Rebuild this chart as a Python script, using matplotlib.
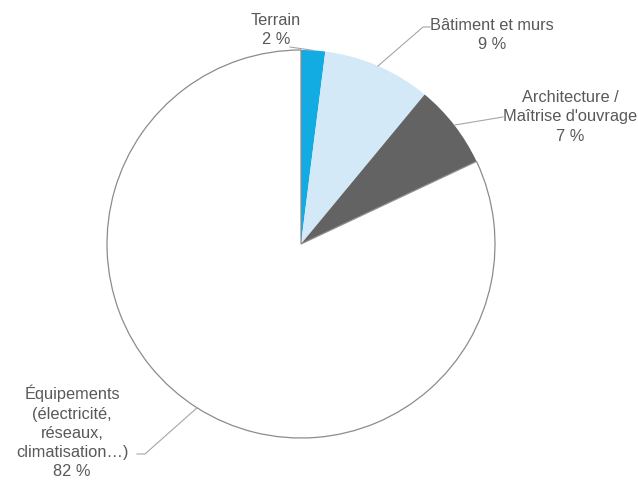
import numpy as np
import matplotlib
matplotlib.use('Agg')
import matplotlib.pyplot as plt

plt.rcParams['font.family'] = ['Liberation Sans', 'DejaVu Sans']

# data
labels = ["Terrain", "Bâtiment et murs", "Architecture /\nMaîtrise d'ouvrage",
          "Équipements\n(électricité,\nréseaux,\nclimatisation…)"]
shares = [2, 9, 7, 82]
colors = ["#12ACE3", "#D4E9F8", "#636363", "#FFFFFF"]
edges = ["none", "none", "none", "#8C8C8C"]

W, H = 638, 481
fig = plt.figure(figsize=(W / 100, H / 100), dpi=100)
ax = fig.add_axes([0, 0, 1, 1])

cx, cy, r = 301, H - 245, 194
wedges, _ = ax.pie(shares, colors=colors, startangle=90, counterclock=False,
                   center=(cx, cy), radius=r, frame=True,
                   wedgeprops=dict(linewidth=0.9))
for w, ec in zip(wedges, edges):
    w.set_edgecolor(ec)
ax.set_xlim(0, W)
ax.set_ylim(0, H)
ax.set_aspect('equal')
ax.axis('off')

# label layout: (leader path after the edge point, text position)
layout = [
    ([(290, 48)], (276, 30)),
    ([(423, 28), (430, 28)], (492, 35)),
    ([(503, 118)], (570, 117)),
    ([(145, 455), (137, 455)], (72, 432)),
]

txt = "#595959"
for w, lab, pct, (path, pos) in zip(wedges, labels, shares, layout):
    ang = np.deg2rad((w.theta1 + w.theta2) / 2)
    px, py = cx + r * np.cos(ang), cy + r * np.sin(ang)
    xs = [px] + [p[0] for p in path]
    ys = [py] + [H - p[1] for p in path]
    ax.plot(xs, ys, color="#A6A6A6", lw=0.8)
    ax.text(pos[0], H - pos[1], f"{lab}\n{pct} %", ha='center', va='center',
            fontsize=11.8, color=txt, linespacing=1.35)

fig.savefig("out.png", dpi=100)
